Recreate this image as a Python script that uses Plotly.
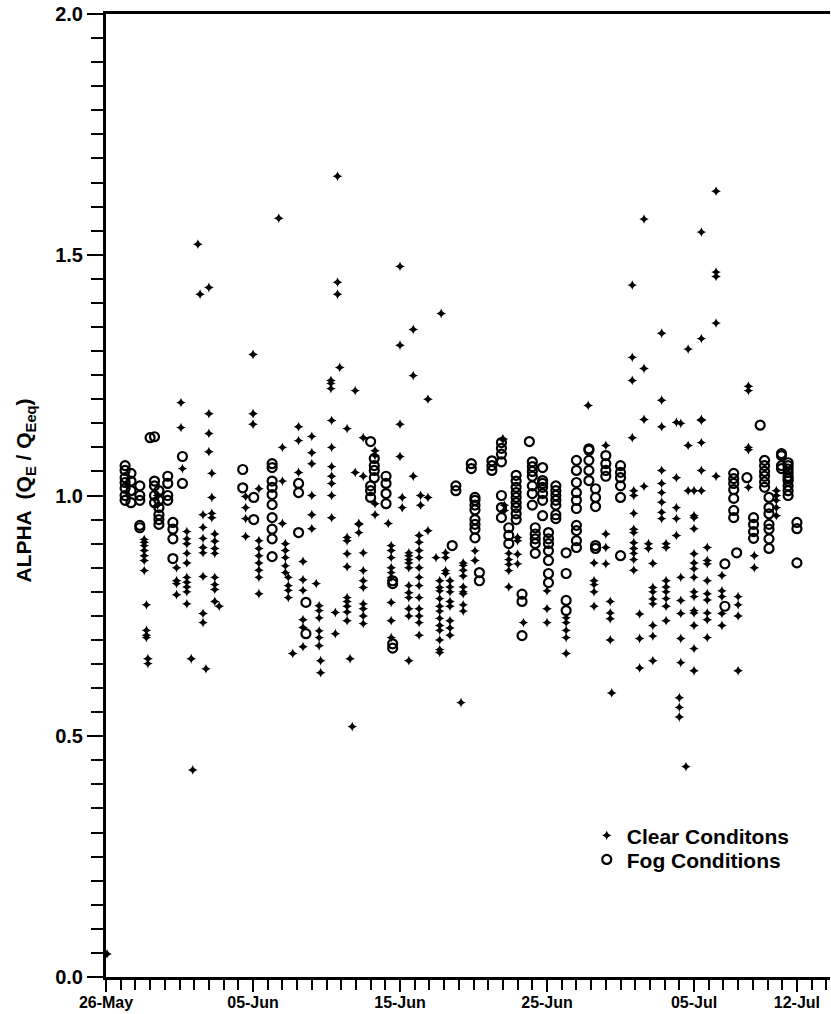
import pandas as pd
import plotly.graph_objects as go

# ---- data (day offset from 26-May, ALPHA values) ----
clear_col_day = [0.07, 1.5, 2.6, 2.75, 2.85, 3.5, 4.8, 5.2, 5.1, 5.5, 5.8, 5.9, 6.25, 6.4, 6.6, 6.8,
                 7.0, 7.2, 7.4, 7.7, 9.5, 10.0, 10.4, 11.75, 12.0, 12.2, 12.4, 12.7, 13.1, 13.4,
                 14.0, 14.3, 14.5, 14.6, 15.3, 15.35, 15.6, 15.75, 15.9, 16.4, 16.6, 16.75, 16.95,
                 17.2, 17.5, 18.3, 19.2, 19.4, 20.0, 20.15, 20.6, 20.9, 21.3, 21.4, 21.9, 22.8,
                 22.45, 22.7, 23.1, 23.4, 24.15, 24.3, 25.1, 27.0, 27.1, 27.4, 28.0, 28.4, 30.0,
                 31.3, 32.8, 33.2, 34.0, 34.3, 34.4, 35.8, 35.9, 36.3, 36.6, 36.9, 37.2, 37.8,
                 38.1, 38.8, 39.1, 39.0, 39.45, 39.6, 40.0, 40.5, 40.9, 41.5, 41.9, 43.0, 43.7,
                 44.1, 45.6]
clear_col_alpha = [
    [0.048], [1.0, 1.02],
    [0.909, 0.903, 0.896, 0.886, 0.875, 0.865, 0.844],
    [0.773, 0.72, 0.71, 0.705], [0.661, 0.651], [1.0, 0.98],
    [0.85, 0.823, 0.817, 0.794], [1.056], [1.193, 1.141],
    [0.925, 0.91, 0.90, 0.88, 0.86, 0.83, 0.82, 0.81, 0.80, 0.775],
    [0.661], [0.43], [1.522], [1.418],
    [0.96, 0.934, 0.911, 0.892, 0.881, 0.832, 0.755, 0.736], [0.64],
    [1.432, 1.17, 1.129, 1.091], [1.046, 0.996, 0.963, 0.954],
    [0.92, 0.905, 0.89, 0.88, 0.83, 0.815, 0.805, 0.78], [0.77],
    [0.998, 0.975, 0.952, 0.915], [1.293, 1.17, 1.148],
    [1.014, 0.906, 0.89, 0.875, 0.86, 0.845, 0.83, 0.796],
    [1.576], [1.10, 1.03, 0.942], [0.90, 0.886, 0.871, 0.854, 0.84],
    [0.83, 0.813, 0.803, 0.788], [0.672], [1.143, 1.114, 1.048],
    [0.863, 0.825, 0.803, 0.742, 0.726, 0.686],
    [1.123, 1.089, 1.066, 1.0, 0.96, 0.931], [0.817],
    [0.771, 0.761, 0.746, 0.719, 0.705, 0.688], [0.657, 0.632],
    [1.239, 1.233, 1.222], [1.156, 1.10, 1.06, 1.04, 1.025, 1.0, 0.954],
    [0.757, 0.713], [1.663, 1.443, 1.418], [1.266],
    [1.139, 0.913, 0.906, 0.879, 0.852, 0.788, 0.78, 0.77, 0.758, 0.74],
    [0.661], [0.52], [1.218, 1.048], [0.942, 0.94, 0.923],
    [1.12, 1.04, 0.881, 0.844, 0.823, 0.809, 0.775, 0.765, 0.75, 0.734],
    [1.093, 1.083, 0.983, 0.96], [0.942],
    [0.896, 0.886, 0.871, 0.85, 0.84, 0.83, 0.778, 0.74, 0.705],
    [1.476, 1.312, 1.148, 1.081], [0.996, 0.975],
    [0.881, 0.875, 0.867, 0.86, 0.85, 0.813, 0.798, 0.788, 0.765, 0.75, 0.657],
    [1.345, 1.249, 1.04],
    [0.917, 0.903, 0.886, 0.871, 0.85, 0.83, 0.813, 0.788, 0.765, 0.75, 0.736, 0.71],
    [1.0, 0.98], [1.20, 0.996, 0.927], [1.378], [0.871],
    [0.823, 0.809, 0.802, 0.786, 0.77, 0.76, 0.745, 0.73, 0.72, 0.70, 0.68, 0.674],
    [0.881, 0.871, 0.844, 0.838],
    [0.823, 0.81, 0.80, 0.78, 0.77, 0.74, 0.725, 0.71], [0.57],
    [0.86, 0.855, 0.845, 0.833, 0.81, 0.80, 0.796, 0.773, 0.76],
    [0.885, 0.865], [1.118, 1.116], [0.98, 0.969],
    [0.88, 0.867, 0.857, 0.844, 0.81], [0.913, 0.906, 0.878, 0.858], [0.736],
    [0.802, 0.765, 0.736], [0.746, 0.736, 0.72, 0.705, 0.672], [1.187],
    [0.86, 0.823, 0.815, 0.80, 0.77], [1.104, 0.92, 0.892, 0.858],
    [0.78, 0.756, 0.744, 0.70], [0.59], [1.437, 1.287, 1.239, 1.12],
    [1.01, 1.0, 0.963, 0.93, 0.923, 0.902, 0.89, 0.88, 0.867, 0.845],
    [0.754, 0.703, 0.642], [1.574, 1.264, 1.158, 1.019], [0.9, 0.89],
    [0.859, 0.809, 0.80, 0.785, 0.775, 0.73, 0.708, 0.657],
    [1.337, 1.198, 1.143, 1.052, 1.025, 1.006, 0.986, 0.965, 0.952],
    [0.9, 0.892, 0.823, 0.81, 0.80, 0.786, 0.77, 0.74],
    [1.152, 1.037, 0.975, 0.952, 0.917],
    [1.15, 0.83, 0.782, 0.755, 0.703, 0.653], [0.58, 0.56, 0.54], [0.437],
    [1.304, 1.104, 1.01],
    [1.01, 0.958, 0.954, 0.931, 0.879, 0.86, 0.848, 0.83, 0.80, 0.79, 0.761, 0.756, 0.73, 0.682, 0.636],
    [1.547, 1.326, 1.158, 1.156, 1.11, 1.052, 1.01],
    [0.865, 0.823, 0.796, 0.783, 0.756, 0.742, 0.705, 0.892, 0.858],
    [1.632, 1.464, 1.455, 1.358, 1.04], [0.834, 0.802, 0.79, 0.755, 0.73],
    [0.79, 0.773, 0.75, 0.636], [1.227, 1.218, 1.10, 1.095, 1.017],
    [0.875, 0.85], [1.01, 1.0, 0.99, 0.975, 0.958],
]

fog_col_day = [1.3, 1.7, 2.3, 3.0, 3.3, 3.6, 4.2, 4.55, 5.2, 9.3, 10.05, 11.3, 13.1, 13.6, 18.0,
               18.25, 19.05, 19.5, 23.55, 23.8, 24.85, 25.1, 25.4, 26.25, 26.9, 27.4, 27.9, 28.3,
               28.8, 29.0, 29.2, 29.7, 30.1, 30.6, 31.3, 32.0, 32.85, 33.3, 34.0, 35.0, 42.1,
               42.7, 42.9, 43.6, 44.05, 44.5, 44.8, 45.1, 45.95, 46.4, 47.0]
fog_col_alpha = [
    [1.062, 1.052, 1.037, 1.027, 1.015, 1.0, 0.99], [1.046, 1.03, 1.01, 0.985],
    [1.02, 1.0, 0.99, 0.938, 0.933], [1.12], [1.122, 1.03, 1.02, 1.0, 0.985],
    [1.01, 0.99, 0.975, 0.96, 0.95, 0.94], [1.04, 1.025, 1.0, 0.99],
    [0.944, 0.93, 0.91, 0.869], [1.081, 1.025], [1.054, 1.016], [0.996, 0.95],
    [1.066, 1.058, 1.03, 1.017, 1.002, 0.981, 0.954, 0.93, 0.91, 0.873],
    [1.025, 1.006, 0.923], [0.778, 0.713], [1.112, 1.02, 1.01, 0.996],
    [1.077, 1.062, 1.052, 1.037], [1.04, 1.025, 1.004, 0.983],
    [0.823, 0.817, 0.692, 0.683], [0.896], [1.02, 1.01], [1.066, 1.056],
    [0.996, 0.99, 0.98, 0.97, 0.95, 0.94, 0.93, 0.912], [0.84, 0.823],
    [1.072, 1.062, 1.052], [1.11, 1.098, 1.086, 1.07, 1.0, 0.975, 0.954],
    [0.933, 0.917, 0.90],
    [1.042, 1.03, 1.017, 1.006, 0.996, 0.985, 0.975, 0.962, 0.95],
    [0.795, 0.78, 0.709], [1.112], [1.07, 1.06, 1.05, 1.04, 1.02, 1.004, 0.98],
    [0.933, 0.92, 0.91, 0.9, 0.88], [1.058, 1.031, 1.025, 1.017, 1.004, 0.99, 0.958],
    [0.923, 0.91, 0.9, 0.885, 0.865, 0.838, 0.819],
    [1.02, 1.01, 1.0, 0.99, 0.98, 0.96, 0.952], [0.881, 0.838, 0.782, 0.761],
    [1.073, 1.052, 1.027, 1.006, 0.99, 0.973, 0.938, 0.927, 0.906, 0.892],
    [1.094, 1.073, 1.052, 1.031, 1.097], [1.014, 0.996, 0.977, 0.896, 0.89],
    [1.083, 1.066, 1.052, 1.04], [1.062, 1.048, 1.037, 1.02, 0.996, 0.875],
    [0.858, 0.77], [1.046, 1.035, 1.025, 1.012, 0.994, 0.969, 0.954], [0.881],
    [1.037], [0.954, 0.94, 0.925, 0.911], [1.146],
    [1.073, 1.062, 1.05, 1.04, 1.028, 1.017],
    [0.996, 0.975, 0.962, 0.94, 0.93, 0.91, 0.89], [1.087, 1.083, 1.062, 1.056],
    [1.068, 1.062, 1.055, 1.048, 1.04, 1.035, 1.03, 1.02, 1.01, 1.0],
    [0.944, 0.931, 0.86],
]

x_tick_dates = ["1990-05-26", "1990-06-05", "1990-06-15", "1990-06-25", "1990-07-05", "1990-07-12"]
x_tick_labels = ["26-May", "05-Jun", "15-Jun", "25-Jun", "05-Jul", "12-Jul"]
y_tick_vals = [0.0, 0.5, 1.0, 1.5, 2.0]
y_tick_labels = ["0.0", "0.5", "1.0", "1.5", "2.0"]
series_names = ["Clear Conditons", "Fog Conditions"]

base = pd.Timestamp("1990-05-26")


def flatten(days, cols):
    xs, ys = [], []
    for d, vals in zip(days, cols):
        for v in vals:
            xs.append(base + pd.Timedelta(days=d))
            ys.append(v)
    return xs, ys


cx, cy = flatten(clear_col_day, clear_col_alpha)
fx, fy = flatten(fog_col_day, fog_col_alpha)

font_family = "Liberation Sans"

fig = go.Figure()
fig.add_trace(go.Scatter(
    x=cx, y=cy, mode="markers", name="<b>" + series_names[0] + "</b>", legend="legend",
    marker=dict(symbol="star-diamond", size=7, color="black", line=dict(width=0)),
))
fig.add_trace(go.Scatter(
    x=fx, y=fy, mode="markers", name="<b>" + series_names[1] + "</b>", legend="legend2",
    marker=dict(symbol="circle-open", size=9, color="black", line=dict(width=2.2, color="black")),
))

legend_style = dict(
    xanchor="left", yanchor="top",
    font=dict(size=21, family=font_family, color="black"),
    bgcolor="rgba(0,0,0,0)", itemwidth=30,
)

fig.update_layout(
    width=831, height=1014,
    margin=dict(l=106, r=1, t=14, b=37),
    paper_bgcolor="white", plot_bgcolor="white",
    font=dict(family=font_family, color="black"),
    showlegend=True,
    legend=dict(x=0.664, y=0.168, **legend_style),
    legend2=dict(x=0.664, y=0.143, **legend_style),
)

fig.update_xaxes(
    type="date", automargin=False,
    range=[base, base + pd.Timedelta(days=49.25)],
    tickvals=x_tick_dates, ticktext=["<b>" + t + "</b>" for t in x_tick_labels],
    ticks="outside", ticklen=12, tickwidth=2, tickcolor="black",
    ticklabelstandoff=-3,
    tickfont=dict(size=16, family=font_family, color="black"),
    minor=dict(dtick=86400000, tick0="1990-05-26", ticks="outside", ticklen=10,
               tickwidth=2, tickcolor="black", showgrid=False),
    showline=True, linewidth=3, linecolor="black", mirror=True,
    showgrid=False, zeroline=False,
)
fig.update_yaxes(
    range=[0, 2.0], automargin=False,
    tickvals=y_tick_vals, ticktext=["<b>" + t + "</b>" for t in y_tick_labels],
    ticks="outside", ticklen=16, tickwidth=2, tickcolor="black",
    tickfont=dict(size=20, family=font_family, color="black"),
    minor=dict(dtick=0.05, tick0=0, ticks="outside", ticklen=12, tickwidth=2,
               tickcolor="black", showgrid=False),
    showline=True, linewidth=3, linecolor="black", mirror=False,
    showgrid=False, zeroline=False,
)

fig.add_annotation(
    text="<b>ALPHA  (Q<sub>E</sub> / Q<sub>Eeq</sub>)</b>",
    xref="paper", yref="paper", x=-0.112, y=0.505,
    xanchor="center", yanchor="middle", textangle=-90, showarrow=False,
    font=dict(size=21, family=font_family, color="black"),
)

fig.write_html("out.html", config={"displayModeBar": False},
               post_script="document.body.style.margin='0px';")
